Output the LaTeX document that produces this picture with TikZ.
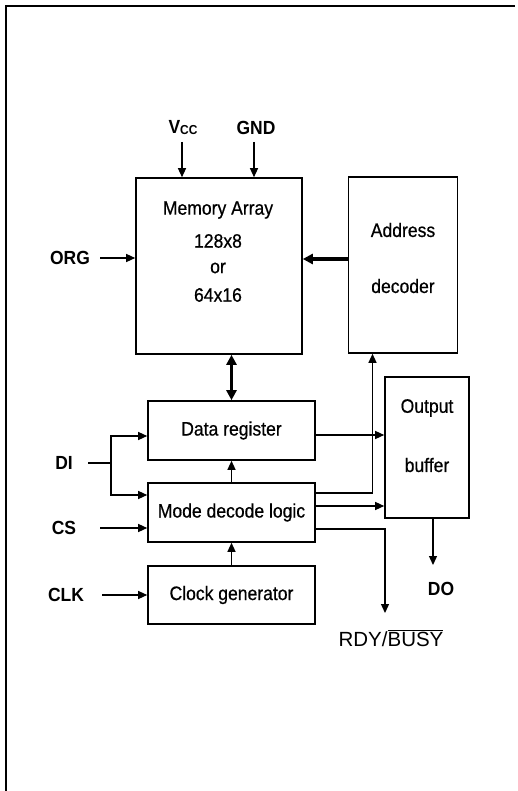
\documentclass[tikz,border=0pt]{standalone}
\usepackage{fontspec}
\setmainfont{Liberation Sans}
\newfontfamily\condfont[FakeStretch=0.9,FakeBold=0.6]{Liberation Sans}
\newfontfamily\condbold[FakeStretch=0.92]{Liberation Sans Bold}
\usetikzlibrary{arrows.meta,calc}
\begin{document}
\begin{tikzpicture}[x=1pt,y=-1pt,
  box/.style={draw,line width=1.6pt,inner sep=0pt,font=\condfont\fontsize{19.5}{22}\selectfont},
  txt/.style={inner sep=0pt,font=\condfont\fontsize{19.5}{22}\selectfont},
  lab/.style={inner sep=0pt,font=\condbold\fontsize{19}{22}\selectfont},
  arr/.style={line width=1.3pt,-{Triangle[length=9pt,width=8pt]}},
  bus/.style={line width=3.6pt,-{Triangle[length=10pt,width=10pt]}},
  bbus/.style={line width=3.6pt,{Triangle[length=10pt,width=10pt]}-{Triangle[length=10pt,width=10pt]}}]
\useasboundingbox (0,0) rectangle (517,791);
\draw[line width=2pt] (6,791) -- (6,6) -- (515,6);

% boxes
\node[box,minimum width=166pt,minimum height=176pt] (mem) at (219,266) {};
\node[box,minimum width=109pt,minimum height=176pt] (addr) at (403,265) {};
\node[box,minimum width=84pt,minimum height=141pt] (out) at (427,447.5) {};
\node[box,minimum width=167pt,minimum height=59pt] (dr) at (231.5,430.5) {Data register};
\node[box,minimum width=167pt,minimum height=59pt] (mode) at (231.5,512.5) {Mode decode logic};
\node[box,minimum width=167pt,minimum height=58pt] (clk) at (231.5,595) {Clock generator};

% box texts
\node[txt] (t1) at (218,210) {Memory Array};
\node[txt] (t2) at (218,241) {128x8};
\node[txt] (t3) at (218,268) {or};
\node[txt] (t4) at (218,295) {64x16};
\node[txt] (t5) at (403,230) {Address};
\node[txt] (t6) at (403,286) {decoder};
\node[txt] (t7) at (427,408) {Output};
\node[txt] (t8) at (427,465) {buffer};

% labels
\node[lab] (vcc) at (183,128) {V\raisebox{-1pt}{\fontsize{13}{14}\selectfont CC}};
\node[lab] (gnd) at (256,128) {GND};
\node[lab] (org) at (70,258) {ORG};
\node[lab] (di) at (64,463) {DI};
\node[lab] (cs) at (64,528) {CS};
\node[lab] (clkl) at (66,595) {CLK};
\node[lab] (do) at (441,589) {DO};
\node[inner sep=0pt,font=\fontsize{20.5}{24}\selectfont] (rdy) at (391,638) {RDY/$\overline{\hbox{BUSY}}$};

\coordinate (vcc0) at (182,142);
\coordinate (gnd0) at (254,142);
\coordinate (org0) at (100,258);
\coordinate (di0) at (88,463);
\coordinate (sp) at (111,463);
\coordinate (cs0) at (100,528);
\coordinate (clk0) at (102,595);
\coordinate (rdy0) at (385,613);
\coordinate (do0) at (433,565);

% connectors
\draw[arr] (vcc0) -- (vcc0 |- mem.north);
\draw[arr] (gnd0) -- (gnd0 |- mem.north);
\draw[arr] (org0) -- (org0 -| mem.west);
\draw[bus] ([yshift=6pt]addr.west) -- ([yshift=6pt]addr.west -| mem.east);
\draw[bbus] (mem.south -| dr.north) -- (dr.north);
\draw[line width=1.3pt] (di0) -- (sp);
\draw[arr] (sp) |- ([yshift=-5.5pt]dr.west);
\draw[arr] (sp) |- ([yshift=17.5pt]mode.west);
\draw[arr] (cs0) -- (cs0 -| mode.west);
\draw[arr] (clk0) -- (clk0 -| clk.west);
\draw[arr] (mode.north) -- (dr.south);
\draw[arr] (clk.north) -- (mode.south);
\draw[arr] ([yshift=-4.5pt]dr.east) -- ([yshift=-4.5pt]dr.east -| out.west);
\draw[arr] ([yshift=19.5pt]mode.east) -| ([xshift=-30.5pt]addr.south);
\draw[arr] ([yshift=6.5pt]mode.east) -- ([yshift=6.5pt]mode.east -| out.west);
\draw[arr] ([yshift=-16.5pt]mode.east) -| (rdy0);
\draw[arr] ([xshift=6pt]out.south) -- (do0);
\end{tikzpicture}
\end{document}
